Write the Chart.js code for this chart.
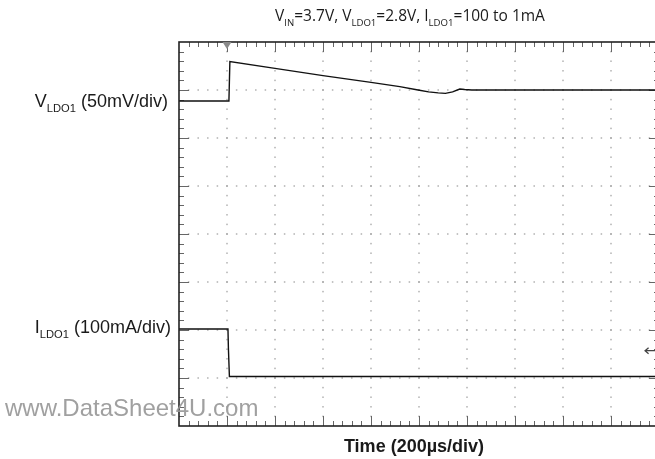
<!DOCTYPE html>
<html><head><meta charset="utf-8">
<script src="https://cdn.jsdelivr.net/npm/chart.js"></script>
<style>html,body{margin:0;padding:0;overflow:hidden;background:#fff;width:655px;height:459px}canvas{display:block}</style>
</head><body><canvas id="c" width="680" height="459"></canvas>
<script>
// time in divisions (200us/div), levels in divisions
const vTime  = [0, 1.04, 1.06, 2.0, 3.0, 4.0, 4.6, 4.98, 5.2, 5.4, 5.55, 5.7, 5.85, 5.95, 6.1, 10];
const vLevel = [6.77, 6.77, 7.59, 7.45, 7.30, 7.16, 7.07, 7.0, 6.96, 6.94, 6.93, 6.96, 7.02, 7.01, 7.0, 7.0];
const iTime  = [0, 1.02, 1.03, 1.05, 10];
const iLevel = [2.02, 2.02, 1.6, 1.03, 1.03];
const xDivs = 10, yDivs = 8, minorPerDiv = 5;
const triggerTime = 1.0;
const iGroundLevel = 1.57;

const toPts = (xs, ys) => xs.map((x, i) => ({x, y: ys[i]}));

function rich(ctx, parts, x, y, align, size, family, weight, color) {
  const sub = size * 0.62;
  const fnt = p => `${weight||'normal'} ${p.s ? sub : size}px ${family}`;
  let w = 0;
  parts.forEach(p => { ctx.font = fnt(p); w += ctx.measureText(p.t).width; });
  let cx = align === 'right' ? x - w : align === 'center' ? x - w / 2 : x;
  ctx.fillStyle = color || '#111';
  ctx.textBaseline = 'alphabetic';
  ctx.textAlign = 'left';
  parts.forEach(p => {
    ctx.font = fnt(p);
    ctx.fillText(p.t, cx, p.s ? y + size * 0.3 : y);
    cx += ctx.measureText(p.t).width;
  });
}

const scopePlugin = {
  id: 'scope',
  beforeDatasetsDraw(chart) {
    const {ctx, chartArea: a, scales: {x, y}} = chart;
    ctx.save();
    // dotted grid
    ctx.fillStyle = '#8a8a8a';
    for (let i = 1; i < xDivs; i++) {
      const px = Math.round(x.getPixelForValue(i));
      for (let j = 1; j < yDivs * minorPerDiv; j++) {
        const py = y.getPixelForValue(j / minorPerDiv);
        ctx.fillRect(px - 0.5, py - 0.75, 1, 1.5);
      }
    }
    for (let i = 1; i < yDivs; i++) {
      const py = Math.round(y.getPixelForValue(i));
      for (let j = 1; j < xDivs * minorPerDiv; j++) {
        const px = x.getPixelForValue(j / minorPerDiv);
        ctx.fillRect(px - 0.75, py - 0.5, 1.5, 1);
      }
    }
    // border ticks
    ctx.strokeStyle = '#666';
    ctx.lineWidth = 1;
    ctx.beginPath();
    for (let j = 1; j < xDivs * minorPerDiv; j++) {
      const px = Math.round(x.getPixelForValue(j / minorPerDiv)) + 0.5;
      const len = j % minorPerDiv === 0 ? 10 : 5;
      ctx.moveTo(px, a.top); ctx.lineTo(px, a.top + len);
      ctx.moveTo(px, a.bottom); ctx.lineTo(px, a.bottom - len);
    }
    for (let j = 1; j < yDivs * minorPerDiv; j++) {
      const py = Math.round(y.getPixelForValue(j / minorPerDiv)) + 0.5;
      const len = j % minorPerDiv === 0 ? 10 : 5;
      ctx.moveTo(a.left, py); ctx.lineTo(a.left + len, py);
      ctx.moveTo(a.right, py); ctx.lineTo(a.right - len, py);
    }
    ctx.stroke();
    ctx.restore();
  },
  afterDatasetsDraw(chart) {
    const {ctx, chartArea: a, scales: {x, y}} = chart;
    ctx.save();
    // frame
    ctx.strokeStyle = '#222';
    ctx.lineWidth = 1.6;
    ctx.strokeRect(a.left, a.top, a.right - a.left, a.bottom - a.top);
    // trigger marker
    const tx = x.getPixelForValue(triggerTime);
    ctx.fillStyle = '#8a8a8a';
    ctx.beginPath();
    ctx.moveTo(tx - 4.5, a.top); ctx.lineTo(tx + 4.5, a.top); ctx.lineTo(tx, a.top + 7); ctx.closePath();
    ctx.fill();
    // ground arrow for current channel
    const gy = y.getPixelForValue(iGroundLevel);
    const gx = x.getPixelForValue(9.71);
    ctx.strokeStyle = '#444'; ctx.lineWidth = 1.3;
    ctx.beginPath();
    ctx.moveTo(gx, gy); ctx.lineTo(gx + 14, gy);
    ctx.moveTo(gx + 3.5, gy - 3); ctx.lineTo(gx, gy); ctx.lineTo(gx + 3.5, gy + 3);
    ctx.stroke();
    // texts
    const fam = '"Liberation Sans", Arial, sans-serif';
    rich(ctx, [{t:'V'},{t:'IN',s:1},{t:'=3.7V, V'},{t:'LDO1',s:1},{t:'=2.8V, I'},{t:'LDO1',s:1},{t:'=100 to 1mA'}],
      410, 21, 'center', 15.5, '"Open Sans", sans-serif', 'normal', '#1a1a1a');
    rich(ctx, [{t:'V'},{t:'LDO1',s:1},{t:' (50mV/div)'}], 168, 107, 'right', 18, fam, 'normal', '#1a1a1a');
    rich(ctx, [{t:'I'},{t:'LDO1',s:1},{t:' (100mA/div)'}], 171, 333, 'right', 18, fam, 'normal', '#1a1a1a');
    rich(ctx, [{t:'Time (200µs/div)'}], 414, 452, 'center', 18, fam, 'bold', '#1a1a1a');
    rich(ctx, [{t:'www.DataSheet4U.com'}], 5, 416, 'left', 24, fam, 'normal', 'rgba(150,150,150,0.9)');
    ctx.restore();
  }
};

new Chart(document.getElementById('c'), {
  type: 'scatter',
  data: {
    datasets: [
      {label: 'VLDO1', data: toPts(vTime, vLevel), showLine: true, borderColor: '#111', borderWidth: 1.4, pointRadius: 0, tension: 0},
      {label: 'ILDO1', data: toPts(iTime, iLevel), showLine: true, borderColor: '#111', borderWidth: 1.4, pointRadius: 0, tension: 0}
    ]
  },
  options: {
    responsive: false,
    animation: false,
    layout: {padding: {left: 179, right: 21, top: 42, bottom: 33}},
    plugins: {legend: {display: false}, tooltip: {enabled: false}, title: {display: false}},
    scales: {
      x: {type: 'linear', min: 0, max: xDivs, display: false},
      y: {type: 'linear', min: 0, max: yDivs, display: false}
    }
  },
  plugins: [scopePlugin]
});
</script>
</body></html>
